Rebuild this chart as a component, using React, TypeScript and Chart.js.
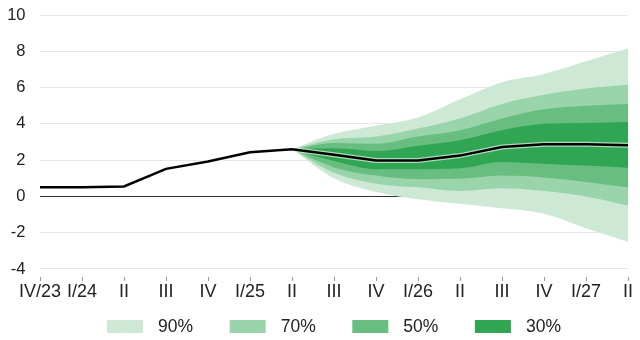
import React, { useEffect, useRef } from "react";
import { Chart, registerables } from "chart.js";

Chart.register(...registerables);

const categories = ["IV/23", "I/24", "II", "III", "IV", "I/25", "II", "III", "IV", "I/26", "II", "III", "IV", "I/27", "II"];
const N = null;
const central = [0.5, 0.5, 0.55, 1.52, 1.93, 2.43, 2.6, 2.3, 1.98, 1.98, 2.25, 2.72, 2.87, 2.87, 2.82];
const upper90 = [N, N, N, N, N, N, 2.6, 3.45, 3.9, 4.35, 5.35, 6.3, 6.75, 7.45, 8.15];
const upper70 = [N, N, N, N, N, N, 2.6, 3.15, 3.3, 3.75, 4.3, 5.1, 5.6, 5.95, 6.15];
const upper50 = [N, N, N, N, N, N, 2.6, 2.95, 2.9, 3.3, 3.65, 4.3, 4.8, 5.0, 5.1];
const upper30 = [N, N, N, N, N, N, 2.6, 2.65, 2.5, 2.8, 3.1, 3.65, 4.0, 4.05, 4.1];
const lower30 = [N, N, N, N, N, N, 2.6, 1.95, 1.5, 1.5, 1.55, 1.9, 1.8, 1.7, 1.58];
const lower50 = [N, N, N, N, N, N, 2.6, 1.6, 1.15, 0.95, 0.97, 1.15, 1.05, 0.8, 0.5];
const lower70 = [N, N, N, N, N, N, 2.6, 1.3, 0.7, 0.5, 0.3, 0.45, 0.3, 0.0, -0.5];
const lower90 = [N, N, N, N, N, N, 2.6, 1.0, 0.25, -0.15, -0.4, -0.65, -0.95, -1.75, -2.5];
const bandLabels = ["30%", "50%", "70%", "90%"];
const bandColors = ["#30a553", "#68be80", "#9ad4aa", "#cde9d5"];
const yTicks = [-4, -2, 0, 2, 4, 6, 8, 10];

const FONT = "'Liberation Sans', Arial, sans-serif";

const fanLegend = {
  id: "fanLegend",
  afterDraw(chart: any) {
    const ctx = chart.ctx;
    const items = chart.data.datasets
      .map((d: any, i: number) => ({ d, i }))
      .filter((o: any) => bandLabels.includes(o.d.label))
      .sort((a: any, b: any) => b.i - a.i);
    const boxW = 36;
    const boxH = 13;
    const gapText = 15;
    const gapItem = 36.6;
    ctx.save();
    ctx.font = `17.5px ${FONT}`;
    const widths = items.map((o: any) => boxW + gapText + ctx.measureText(o.d.label).width);
    const total = widths.reduce((s: number, w: number) => s + w, 0) + gapItem * (items.length - 1);
    const ca = chart.chartArea;
    let x = (ca.left + ca.right) / 2 - total / 2;
    const top = 320;
    items.forEach((o: any, k: number) => {
      ctx.fillStyle = o.d.backgroundColor;
      ctx.fillRect(x, top, boxW, boxH);
      ctx.fillStyle = "#222";
      ctx.textBaseline = "middle";
      ctx.textAlign = "left";
      ctx.fillText(o.d.label, x + boxW + gapText, top + boxH / 2 + 0.5);
      x += widths[k] + gapItem;
    });
    ctx.restore();
  },
};

export default function App() {
  const ref = useRef<HTMLCanvasElement | null>(null);
  useEffect(() => {
    document.body.style.margin = "0";
    if (!ref.current) return;
    const band = (data: (number | null)[], color: string, label: string, target: number | false) => ({
      label,
      data,
      borderWidth: 0,
      borderColor: color,
      backgroundColor: color,
      pointRadius: 0,
      fill: target === false ? false : { target },
      cubicInterpolationMode: "monotone" as const,
    });
    const chart = new Chart(ref.current, {
      type: "line",
      data: {
        labels: categories,
        datasets: [
          { label: "central", data: central, borderColor: "#000", borderWidth: 2.5, pointRadius: 0, fill: false, tension: 0 },
          { label: "halo", data: central, borderColor: "rgba(255,255,255,0.6)", borderWidth: 5, pointRadius: 0, fill: false, tension: 0 },
          band(upper30, bandColors[0], bandLabels[0], 3),
          band(lower30, bandColors[0], "l30", false),
          band(upper50, bandColors[1], bandLabels[1], 5),
          band(lower50, bandColors[1], "l50", false),
          band(upper70, bandColors[2], bandLabels[2], 7),
          band(lower70, bandColors[2], "l70", false),
          band(upper90, bandColors[3], bandLabels[3], 9),
          band(lower90, bandColors[3], "l90", false),
        ] as any,
      },
      options: {
        animation: false,
        responsive: false,
        layout: { padding: { top: 15, right: 12, left: 7, bottom: 35 } },
        plugins: {
          tooltip: { enabled: false },
          legend: { display: false },
        },
        scales: {
          x: {
            border: { display: false },
            grid: { display: true, drawOnChartArea: false, drawTicks: true, tickLength: 4, color: "#999" },
            ticks: { color: "#222", font: { family: FONT, size: 18 }, maxRotation: 0, autoSkip: false, padding: 0 },
            afterFit: (scale: any) => {
              scale.paddingLeft = 0;
              scale.paddingRight = 0;
              scale.height = 28;
            },
          },
          y: {
            min: -4.441,
            max: 10,
            afterBuildTicks: (scale: any) => {
              scale.ticks = yTicks.map((v) => ({ value: v }));
            },
            afterFit: (scale: any) => {
              scale.paddingTop = 0;
              scale.paddingBottom = 0;
              scale.width = 33;
            },
            border: { display: false },
            grid: {
              drawTicks: false,
              color: (ctx: any) => (ctx.tick && ctx.tick.value === 0 ? "#333" : "#e6e6e6"),
              lineWidth: 1,
            },
            ticks: { color: "#222", font: { family: FONT, size: 16.5 }, padding: 14.5 },
          },
        },
      },
      plugins: [fanLegend],
    });
    return () => chart.destroy();
  }, []);
  return <canvas ref={ref} width={640} height={340} style={{ display: "block" }} />;
}
